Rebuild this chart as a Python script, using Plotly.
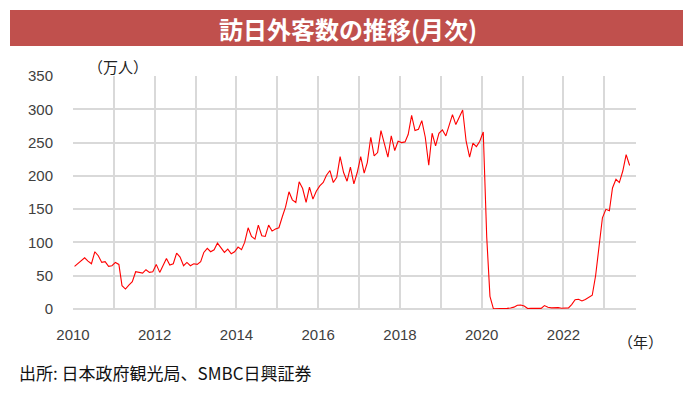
import pandas as pd
import plotly.graph_objects as go

# Monthly visitor arrivals to Japan (unit: 10,000 persons), Jan 2010 - Aug 2023
v2010 = [64, 68, 72, 77, 72, 68, 86, 80, 70, 71, 64, 65]
v2011 = [70, 67, 35, 30, 36, 41, 56, 55, 54, 59, 55, 56]
v2012 = [67, 55, 64, 76, 66, 68, 84, 78, 65, 70, 65, 68]
v2013 = [67, 71, 85, 91, 86, 89, 99, 91, 85, 90, 83, 86]
v2014 = [93, 89, 100, 122, 109, 105, 126, 110, 109, 126, 117, 120]
v2015 = [122, 139, 153, 176, 164, 160, 191, 181, 160, 183, 165, 177]
v2016 = [185, 190, 201, 208, 190, 198, 229, 205, 192, 213, 188, 205]
v2017 = [229, 204, 220, 258, 230, 235, 268, 248, 228, 260, 238, 252]
v2018 = [250, 251, 262, 291, 268, 270, 283, 258, 216, 264, 245, 264]
v2019 = [269, 260, 277, 292, 277, 287, 299, 252, 228, 249, 244, 252]
v2020 = [266, 108, 19, 0.3, 0.2, 0.3, 0.4, 0.9, 1.4, 2.8, 5.7, 5.9]
v2021 = [4.6, 0.7, 1.2, 1.1, 1.0, 1.0, 5.2, 2.6, 1.7, 2.3, 2.1, 1.2]
v2022 = [1.7, 1.7, 6.6, 14.0, 14.7, 12.0, 14.4, 17.0, 20.7, 49.9, 93.5, 137.0]
v2023 = [149.7, 147.6, 181.8, 194.9, 189.9, 207.3, 232.0, 215.6]

values = (v2010 + v2011 + v2012 + v2013 + v2014 + v2015 + v2016 + v2017 +
          v2018 + v2019 + v2020 + v2021 + v2022 + v2023)
months = pd.date_range("2010-01-01", periods=len(values), freq="MS") + pd.Timedelta(days=14)

title_text = "訪日外客数の推移(月次)"
unit_text = "（万人）"
year_text = "（年）"
source_text = "出所: 日本政府観光局、SMBC日興証券"

W, H = 692, 396
L, R, T, B = 73, 636, 76, 309


def px(x):
    return (x - L) / (R - L)


def py(y):
    return (B - y) / (B - T)


fig = go.Figure()
fig.add_trace(go.Scatter(x=months, y=values, mode="lines",
                         line=dict(color="#FF0000", width=1.1),
                         hoverinfo="skip", showlegend=False))

grid = "#D9D9D9"
fig.update_layout(
    width=W, height=H,
    margin=dict(l=L, r=W - R, t=T, b=H - B),
    paper_bgcolor="white", plot_bgcolor="white",
    font=dict(family="Liberation Sans, Arial, sans-serif", size=15, color="#404040"),
    xaxis=dict(
        type="date",
        range=["2010-01-01", "2023-10-11"],
        dtick="M24", tick0="2010-01-01", tickformat="%Y",
        showgrid=True, gridcolor=grid, gridwidth=1.6,
        minor=dict(dtick="M12", tick0="2010-01-01", showgrid=True,
                   gridcolor=grid, gridwidth=1.6),
        ticks="outside", ticklen=12, tickcolor="rgba(0,0,0,0)",
        showline=False, zeroline=False,
        tickfont=dict(size=15, color="#404040"),
    ),
    yaxis=dict(
        range=[0, 350], dtick=50, tick0=0,
        showgrid=True, gridcolor=grid, gridwidth=1.6,
        ticks="outside", ticklen=16, tickcolor="rgba(0,0,0,0)",
        showline=False, zeroline=True, zerolinecolor=grid, zerolinewidth=1.6,
        tickfont=dict(size=15, color="#404040"),
    ),
    shapes=[dict(type="rect", xref="paper", yref="paper",
                 x0=px(10), x1=px(683), y0=py(46), y1=py(10),
                 fillcolor="#C0504D", line=dict(width=0), layer="above")],
    annotations=[
        dict(text=title_text, xref="paper", yref="paper",
             x=px(348), y=py(28), xanchor="center", yanchor="middle",
             showarrow=False,
             font=dict(family="Noto Sans CJK JP", size=24, color="white", weight="bold")),
        dict(text=unit_text, xref="paper", yref="paper",
             x=px(118), y=py(66), xanchor="center", yanchor="middle",
             showarrow=False,
             font=dict(family="Noto Sans CJK JP", size=15, color="#222222")),
        dict(text=year_text, xref="paper", yref="paper",
             x=px(640), y=py(341), xanchor="center", yanchor="middle",
             showarrow=False,
             font=dict(family="Noto Sans CJK JP", size=15, color="#222222")),
        dict(text=source_text, xref="paper", yref="paper",
             x=px(17), y=py(372), xanchor="left", yanchor="middle",
             showarrow=False,
             font=dict(family="Noto Sans CJK JP", size=17, color="#111111")),
    ],
)

fig.write_html("out.html", config={"displayModeBar": False},
               post_script="document.body.style.margin='0px';")
